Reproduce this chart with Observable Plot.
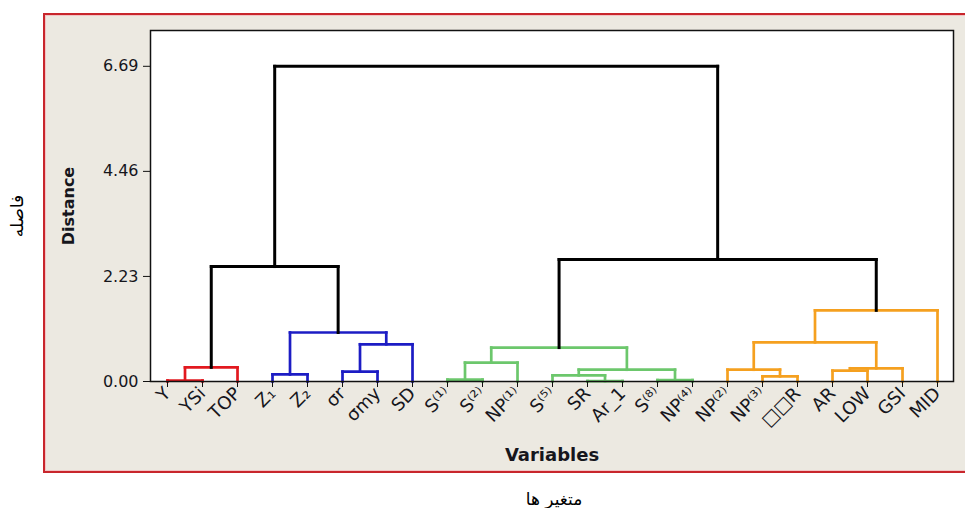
<!DOCTYPE html>
<html>
<head>
<meta charset="utf-8">
<script src="https://cdn.jsdelivr.net/npm/d3@7"></script>
<script src="https://cdn.jsdelivr.net/npm/@observablehq/plot@0.6"></script>
<style>
  html, body { margin: 0; padding: 0; background: #ffffff; overflow: hidden; }
  #wrap { position: relative; width: 965px; height: 508px; }
  #panel { position: absolute; left: 43px; top: 13px; width: 940px; height: 456px;
           background: #ECE9E1; border: 2px solid #C8262C; box-shadow: inset 0 0 0 1px #F2C4C4; }
  #chart { position: absolute; left: 0; top: 0; }
</style>
</head>
<body>
<div id="wrap">
  <div id="panel"></div>
  <div id="chart"></div>
</div>
<script>
// Leaves of the dendrogram, left to right
const leaves = ["Y","YSi","TOP","Z₁","Z₂","σr","σmy","SD","S⁽¹⁾","S⁽²⁾","NP⁽¹⁾","S⁽⁵⁾","SR","Ar_1","S⁽⁸⁾","NP⁽⁴⁾","NP⁽²⁾","NP⁽³⁾","□□R","AR","LOW","GSI","MID"];

// Linkage: merge k creates cluster id (leaves.length + k)
const mergeLeft   = [0, 23, 3, 5, 26, 25, 24,  8, 30, 12, 11, 14, 33, 31,  17, 16, 19, 39, 38, 41,  36, 29];
const mergeRight  = [1,  2, 4, 6,  7, 27, 28,  9, 10, 13, 32, 15, 34, 35,  18, 37, 20, 21, 40, 22,  42, 43];
const mergeHeight = [0.02, 0.30, 0.15, 0.21, 0.79, 1.04, 2.44,
                     0.04, 0.40, 0.01, 0.13, 0.03, 0.25, 0.72,
                     0.11, 0.25, 0.23, 0.28, 0.83, 1.51,
                     2.59, 6.69];
const mergeGroup  = ["red","red","blue","blue","blue","blue","top",
                     "green","green","green","green","green","green","green",
                     "orange","orange","orange","orange","orange","orange",
                     "top","top"];

const yTicks = [0, 2.23, 4.46, 6.69];
const groupColors = {red: "#E2191F", blue: "#1C1CC4", green: "#6CC76C", orange: "#F5A01F", top: "#000000"};

// Build the link segments from the linkage
const n = leaves.length;
const posX = leaves.map((_, i) => i);
const posH = leaves.map(() => 0);
const segments = [];
mergeLeft.forEach((a, k) => {
  const b = mergeRight[k], h = mergeHeight[k], c = groupColors[mergeGroup[k]];
  const xa = posX[a], xb = posX[b];
  const top = mergeGroup[k] === "top";
  segments.push({x1: xa, y1: posH[a], x2: xa, y2: h, c, top});
  segments.push({x1: xb, y1: posH[b], x2: xb, y2: h, c, top});
  segments.push({x1: xa, y1: h, x2: xb, y2: h, c, top});
  posX[n + k] = (xa + xb) / 2;
  posH[n + k] = h;
});

const chart = Plot.plot({
  width: 965,
  height: 508,
  marginLeft: 150,
  marginRight: 12,
  marginTop: 30,
  marginBottom: 127,
  style: {background: "transparent", color: "#16161c", fontFamily: "'DejaVu Sans', Verdana, sans-serif"},
  x: {type: "linear", domain: [-0.486, n - 1 + 0.457]},
  y: {domain: [0, 7.45]},
  color: {type: "identity"},
  marks: [
    Plot.frame({fill: "white", stroke: "none"}),
    Plot.link(segments.filter(d => !d.top), {x1: "x1", y1: "y1", x2: "x2", y2: "y2", stroke: "c", strokeWidth: 2.7, strokeLinecap: "square"}),
    Plot.link(segments.filter(d => d.top), {x1: "x1", y1: "y1", x2: "x2", y2: "y2", stroke: "c", strokeWidth: 3, strokeLinecap: "square"}),
    Plot.frame({stroke: "#111", strokeWidth: 1.5}),
    Plot.axisY({ticks: yTicks, tickFormat: d => d.toFixed(2), tickSize: 7, tickPadding: 5, fontSize: 16, label: null, stroke: "#111"}),
    Plot.axisX({ticks: d3.range(n), tickFormat: i => leaves[i], tickRotate: -45, tickSize: 6, tickPadding: 3, fontSize: 18, label: null, stroke: "#111"}),
    Plot.text(["Variables"], {frameAnchor: "bottom", dy: 74, lineAnchor: "middle", textAnchor: "middle", fontWeight: "bold", fontSize: 18}),
    Plot.text(["Distance"], {frameAnchor: "left", dx: -82, textAnchor: "middle", lineAnchor: "middle", rotate: -90, fontWeight: "bold", fontSize: 16}),
    Plot.text(["فاصله"], {frameAnchor: "left", dx: -133, dy: 10, textAnchor: "middle", lineAnchor: "middle", rotate: -90, fontSize: 17, fill: "#000"}),
    Plot.text(["متغیر ها"], {frameAnchor: "bottom", dy: 118, dx: 2, textAnchor: "middle", lineAnchor: "middle", fontSize: 17, fill: "#000"})
  ]
});
document.getElementById("chart").appendChild(chart);
</script>
</body>
</html>
